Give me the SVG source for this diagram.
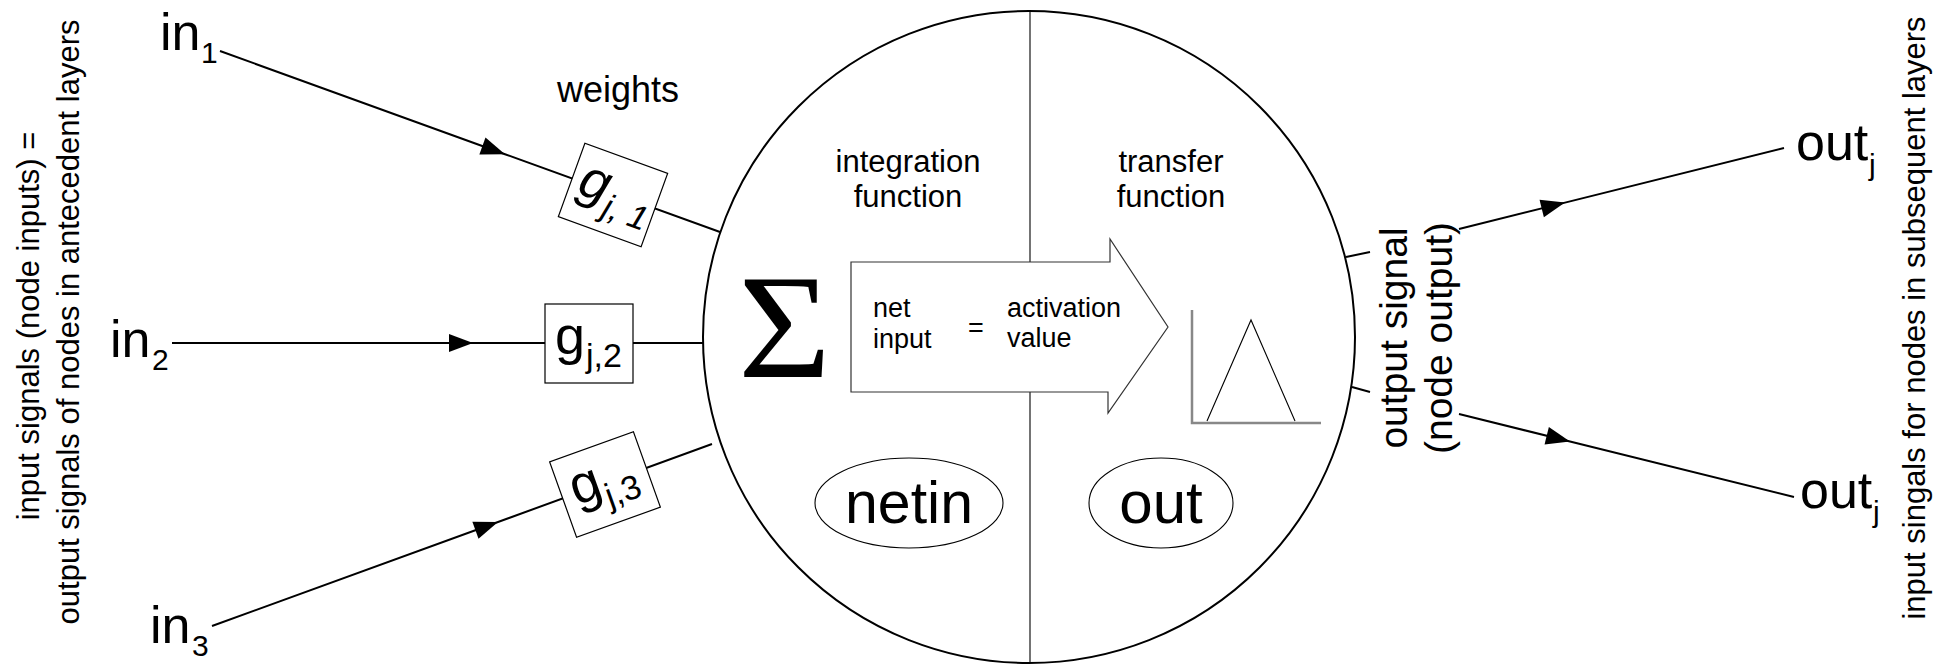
<svg xmlns="http://www.w3.org/2000/svg" width="1952" height="664" viewBox="0 0 1952 664">
<style>
  text { font-family: "Liberation Sans", Arial, Helvetica, sans-serif; fill: #000; }
  .side { font-size: 31px; }
  .fn { font-size: 31px; text-anchor: middle; }
  .ar { font-size: 27px; }
  .big { font-size: 52px; }
  .sub { font-size: 30px; }
  .gw { font-size: 54px; }
  .gs { font-size: 34px; }
  .conn { fill: none; stroke: #000; stroke-width: 2; }
  .box { fill: #fff; stroke: #000; stroke-width: 1.2; }
  .thin { fill: none; stroke: #000; stroke-width: 1.1; }
</style>
<defs>
  <marker id="arr" markerUnits="userSpaceOnUse" markerWidth="28" markerHeight="22" viewBox="-26 -11 28 22" refX="0" refY="0" orient="auto">
    <path d="M0,0 L-24,-9 L-24,9 Z" fill="#000"/>
  </marker>
</defs>
<rect width="1952" height="664" fill="#fff"/>

<g id="neuron">
  <circle cx="1029" cy="337" r="326" fill="#fff" stroke="#000" stroke-width="2"/>
  <line x1="1030" y1="11" x2="1030" y2="663" stroke="#000" stroke-width="1.1"/>
  <text class="fn" x="908" y="172">integration</text>
  <text class="fn" x="908" y="207">function</text>
  <text class="fn" x="1171" y="172">transfer</text>
  <text class="fn" x="1171" y="207">function</text>
  <text x="738" y="377" style="font-family:'Liberation Serif','Times New Roman',serif" font-size="148" textLength="93" lengthAdjust="spacingAndGlyphs">Σ</text>
</g>

<g id="activation-arrow">
  <polygon points="851,262 1110,262 1110,239 1168,327 1108,413 1108,392 851,392" fill="#fff" stroke="#333" stroke-width="1.2"/>
  <text class="ar" x="873" y="317">net</text>
  <text class="ar" x="873" y="348">input</text>
  <text class="ar" x="968" y="337">=</text>
  <text class="ar" x="1007" y="317">activation</text>
  <text class="ar" x="1007" y="347">value</text>
</g>

<g id="transfer-graph">
  <polyline points="1192,310 1192,423 1321,423" fill="none" stroke="#888" stroke-width="2.5"/>
  <polyline points="1207,421 1251,320 1295,421" class="thin"/>
</g>

<g id="netin">
  <ellipse cx="909" cy="503" rx="94" ry="45" class="thin"/>
  <text x="909" y="523" font-size="59" text-anchor="middle">netin</text>
</g>

<g id="out">
  <ellipse cx="1161" cy="503" rx="72" ry="45" class="thin"/>
  <text x="1161" y="523" font-size="60" text-anchor="middle">out</text>
</g>

<g id="connectors">
  <polyline class="conn" points="220,51 505,154.2 720,232" marker-mid="url(#arr)"/>
  <polyline class="conn" points="172,343 473,343 703,343" marker-mid="url(#arr)"/>
  <polyline class="conn" points="212,626 498,522 712,444" marker-mid="url(#arr)"/>
  <polyline class="conn" points="1459,229 1565,202.6 1784,148" marker-mid="url(#arr)"/>
  <polyline class="conn" points="1459,414 1570,441.5 1794,497" marker-mid="url(#arr)"/>
  <line class="conn" x1="1346" y1="257" x2="1370" y2="252"/>
  <line class="conn" x1="1352" y1="387" x2="1370" y2="392"/>
</g>

<g id="weight-1" transform="translate(613,195) rotate(19.9)">
  <rect class="box" x="-44" y="-39" width="88" height="78"/>
  <text class="gw" x="-36" y="11" font-style="italic">g</text>
  <text class="gs" x="-5" y="24" font-style="italic">j, 1</text>
</g>

<g id="weight-2" transform="translate(589,343.5)">
  <rect class="box" x="-44" y="-39.5" width="88" height="79"/>
  <text class="gw" x="-34" y="10.5">g</text>
  <text class="gs" x="-3" y="23.5">j,2</text>
</g>

<g id="weight-3" transform="translate(605,484.5) rotate(-19.7)">
  <rect class="box" x="-44.5" y="-40" width="89" height="80"/>
  <text class="gw" x="-34" y="10.5">g</text>
  <text class="gs" x="-3" y="23.5">j,3</text>
</g>

<g id="labels">
  <text x="557" y="102" font-size="36">weights</text>
  <text class="big" x="160" y="50">in</text><text class="sub" x="201" y="63">1</text>
  <text class="big" x="110" y="357">in</text><text class="sub" x="152" y="370">2</text>
  <text class="big" x="150" y="643">in</text><text class="sub" x="192" y="656">3</text>
  <text class="big" x="1796" y="160">out</text><text class="sub" x="1869" y="175">j</text>
  <text class="big" x="1800" y="508">out</text><text class="sub" x="1873" y="522">j</text>
  <text class="side" transform="translate(39,326) rotate(-90)" text-anchor="middle">input signals (node inputs) =</text>
  <text class="side" transform="translate(79,322) rotate(-90)" text-anchor="middle">output signals of nodes in antecedent layers</text>
  <text class="side" transform="translate(1925,318) rotate(-90)" text-anchor="middle">input singals for nodes in subsequent layers</text>
  <text font-size="39" transform="translate(1407,338) rotate(-90)" text-anchor="middle">output signal</text>
  <text font-size="39" transform="translate(1452,338) rotate(-90)" text-anchor="middle">(node output)</text>
</g>
</svg>
